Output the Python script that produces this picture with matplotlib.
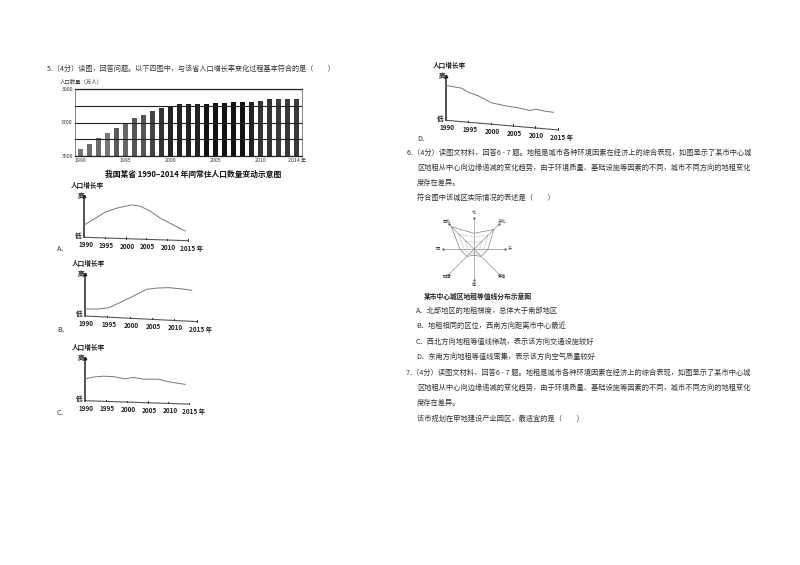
import numpy as np
import matplotlib
matplotlib.use('Agg')
import matplotlib.pyplot as plt

plt.rcParams['font.family'] = ['Noto Sans CJK SC', 'DejaVu Sans']

W, H = 800, 565
INK = '#333333'
BODY = 5.2

# bar chart
pop_years = list(range(1990, 2015))
pop_values = [3542, 3574, 3605, 3637, 3669, 3699, 3725, 3747, 3769, 3787, 3801, 3809, 3811,
              3811, 3813, 3815, 3819, 3821, 3821, 3821, 3831, 3838, 3838, 3840, 3840]
pop_shades = ['#777777', '#6a6a6a', '#6a6a6a', '#777777', '#5a5a5a', '#666666', '#555555',
              '#555555', '#444444', '#333333', '#222222', '#222222', '#222222', '#222222',
              '#111111', '#111111', '#111111', '#111111', '#111111', '#222222', '#333333',
              '#333333', '#3a3a3a', '#3a3a3a', '#3a3a3a']
pop_ticks = [3500, 3600, 3700, 3800, 3900]
pop_tick_labels = {3500: '3500', 3700: '3700', 3900: '3900'}
pop_year_labels = {1990: '1990', 1995: '1995', 2000: '2000', 2005: '2005', 2010: '2010', 2014: '2014 年'}

# growth rate curves
a_years = [1990, 1992.2, 1995, 1997.8, 2001.5, 2003.5, 2005.9, 2008.7, 2011.5, 2014.4]
a_rate = [0.30, 0.43, 0.60, 0.70, 0.78, 0.75, 0.63, 0.44, 0.30, 0.15]
b_years = [1990, 1992.6, 1995.2, 1997.8, 2000.8, 2003.8, 2006, 2008.7, 2011.3, 2013.9]
b_rate = [0.165, 0.165, 0.19, 0.315, 0.47, 0.63, 0.66, 0.67, 0.645, 0.61]
c_years = [1990, 1992, 1994.4, 1996.8, 1999.6, 2001.6, 2004, 2007.6, 2010, 2014]
c_rate = [0.51, 0.55, 0.57, 0.56, 0.51, 0.54, 0.50, 0.50, 0.44, 0.38]
d_years = [1990.1, 1993.5, 1995, 1997.2, 2000.2, 2003.6, 2006.6, 2008.8, 2010.1, 2011.8, 2014]
d_rate = [0.78, 0.72, 0.63, 0.55, 0.39, 0.32, 0.27, 0.22, 0.25, 0.21, 0.18]
tick_years = [1990, 1995, 2000, 2005, 2010, 2015]

# land rent isolines, order is E, NE, N, NW, W, SW, S, SE
dir_names = ['东', '东北', '北', '西北', '西', '西南', '南', '东南']
dir_angles = [0, 45, 90, 135, 180, 225, 270, 315]
rent_outer = [14, 28, 16, 32, 14, 10, 6, 10]
rent_middle = [10, 20, 12, 22, 10, 7, 4.5, 7]
rent_inner = [6, 11, 7, 12, 6, 4, 3, 4]

q5 = '5.（4分）读图，回答问题。以下四图中，与该省人口增长率变化过程基本符合的是（　　）'
q_first = '（4分）读图文材料，回答6 - 7 题。地租是城市各种环境因素在经济上的综合表现，如图显示了某市中心城'
q_second = '区地租从中心向边缘递减的变化趋势，由于环境质量、基础设施等因素的不同，城市不同方向的地租变化'
q_third = '度存在差异。'
q6_ask = '符合图中该城区实际情况的表述是（　　）'
q6_options = [
    'A．北部地区的地租梯度，总体大于南部地区',
    'B．地租相同的区位，西南方向距离市中心最近',
    'C．西北方向地租等值线稀疏，表示该方向交通设施较好',
    'D．东南方向地租等值线密集，表示该方向空气质量较好',
]
q7_ask = '该市规划在甲地建设产业园区，最适宜的是（　　）'


def px_axes(fig, left, top, right, bottom):
    return fig.add_axes([left / W, 1 - bottom / H, (right - left) / W, (bottom - top) / H])


def growth_chart(fig, x0, y0, x1, ytop, drop, years, rate, tag, tag_xy):
    ax = px_axes(fig, x0, ytop, x1, y0)
    ax.set_xlim(1990, 2015)
    ax.set_ylim(0, 1)
    ax.axis('off')
    slope = -drop / (y0 - ytop)
    base = [slope * (y - 1990) / 25 for y in tick_years]
    ax.plot(tick_years, base, color='#555555', lw=0.8, clip_on=False)
    ax.plot([1990, 1990], [0, 1], color='#222222', lw=1.1, clip_on=False)
    ax.plot([1990], [1], marker='^', ms=1.8, color='#222222', clip_on=False)
    ax.plot(years, rate, color='#777777', lw=0.7, clip_on=False)
    for y, b in zip(tick_years, base):
        if y > 1990:
            ax.plot([y, y], [b, b + 0.035], color='#333333', lw=0.7, clip_on=False)
        label = '2015 年' if y == 2015 else str(y)
        ax.annotate(label, (y, b), xytext=(1 if y < 2015 else 3, -5.4), textcoords='offset points',
                    ha='center', va='center', fontsize=4.6, color='#222222', fontweight='bold',
                    annotation_clip=False)
    ax.annotate('人口增长率', (1990, 1), xytext=(2.5, 7.2), textcoords='offset points',
                ha='center', va='center', fontsize=4.8, color='#222222', fontweight='bold',
                annotation_clip=False)
    ax.annotate('高', (1990, 1), xytext=(-2.6, 0), textcoords='offset points',
                ha='center', va='center', fontsize=4.8, color='#222222', fontweight='bold',
                annotation_clip=False)
    ax.annotate('低', (1990, 0), xytext=(-4.4, 1.6), textcoords='offset points',
                ha='center', va='center', fontsize=4.8, color='#222222', fontweight='bold',
                annotation_clip=False)
    page.text(tag_xy[0], tag_xy[1], tag, fontsize=BODY, color=INK, ha='left', va='center')


fig = plt.figure(figsize=(W / 100, H / 100), dpi=100)
page = fig.add_axes([0, 0, 1, 1])
page.set_xlim(0, W)
page.set_ylim(H, 0)
page.axis('off')

# question text
page.text(47, 69, q5, fontsize=5.1, color=INK, va='center')
page.text(407, 153, '6.' + q_first, fontsize=BODY, color=INK, va='center')
page.text(417, 168, q_second, fontsize=BODY, color=INK, va='center')
page.text(417, 183, q_third, fontsize=BODY, color=INK, va='center')
page.text(417, 198, q6_ask, fontsize=BODY, color=INK, va='center')
for y, line in zip([310.7, 326, 341.7, 357], q6_options):
    page.text(416, y, line, fontsize=BODY, color=INK, va='center')
page.text(406, 372.7, '7.' + q_first, fontsize=BODY, color=INK, va='center')
page.text(417, 388, q_second, fontsize=BODY, color=INK, va='center')
page.text(417, 403, q_third, fontsize=BODY, color=INK, va='center')
page.text(417, 419, q7_ask, fontsize=BODY, color=INK, va='center')

# population bars
ax = px_axes(fig, 75, 89, 302, 156)
ax.bar(pop_years, pop_values, width=0.58, bottom=0, color=pop_shades, zorder=2)
ax.set_xlim(1989.37, 2014.6)
ax.set_ylim(3500, 3900)
ax.set_yticks(pop_ticks)
ax.set_yticklabels([pop_tick_labels.get(t, '') for t in pop_ticks], fontsize=3.8, color='#333333')
ax.set_xticks(list(pop_year_labels))
ax.set_xticklabels(list(pop_year_labels.values()), fontsize=3.8, color='#333333')
ax.tick_params(length=0, pad=1.5)
ax.grid(axis='y', color='#222222', lw=0.8, zorder=3)
ax.set_axisbelow(False)
for s in ['top', 'bottom']:
    ax.spines[s].set_linewidth(0.9)
    ax.spines[s].set_color('#222222')
for s in ['left', 'right']:
    ax.spines[s].set_linewidth(0.5)
    ax.spines[s].set_color('#555555')
page.text(60, 82, '人口数量（万人）', fontsize=3.9, color='#333333', va='center')
page.text(193, 174, '我国某省 1990–2014 年间常住人口数量变动示意图', fontsize=5.6, color='#111111',
          ha='center', va='center', fontweight='bold')

# the four options
growth_chart(fig, 84.3, 237.3, 187.7, 195.7, 3.4, a_years, a_rate, 'A．', (57, 249))
growth_chart(fig, 85, 316, 196.7, 273.7, 5.6, b_years, b_rate, 'B．', (57, 330))
growth_chart(fig, 85, 400.7, 189.3, 357.7, 3.4, c_years, c_rate, 'C．', (57, 413))
growth_chart(fig, 446, 120.3, 557.7, 75.7, 9.6, d_years, d_rate, 'D．', (417, 139))

# land rent sketch
cx, cy = 474, 249.3
reach = 36
ax = px_axes(fig, cx - reach, cy - reach, cx + reach, cy + reach)
ax.set_xlim(-reach, reach)
ax.set_ylim(-reach, reach)
ax.axis('off')
theta = np.radians(dir_angles)
for a, name in zip(theta, dir_names):
    r = 31 if name in ['东', '西', '南', '北'] else 36
    ax.plot([0, r * np.cos(a)], [0, r * np.sin(a)], color='#888888', lw=0.45)
    ax.plot([r * np.cos(a)], [r * np.sin(a)], marker='.', ms=1.2, color='#555555')
    lab = r + (5 if len(name) == 1 else 3)
    ax.text(lab * np.cos(a), lab * np.sin(a), name, fontsize=3, color='#444444',
            ha='center', va='center', clip_on=False)
for radii, style in [(rent_outer, '-'), (rent_middle, ':'), (rent_inner, ':')]:
    r = np.array(radii + radii[:1])
    t = np.radians(dir_angles + [360])
    ax.plot(r * np.cos(t), r * np.sin(t), color='#777777', lw=0.45, ls=style)
page.text(478, 296, '某市中心城区地租等值线分布示意图', fontsize=4.9, color='#222222',
          ha='center', va='center', fontweight='bold')

fig.savefig('out.png', dpi=100, facecolor='white')
